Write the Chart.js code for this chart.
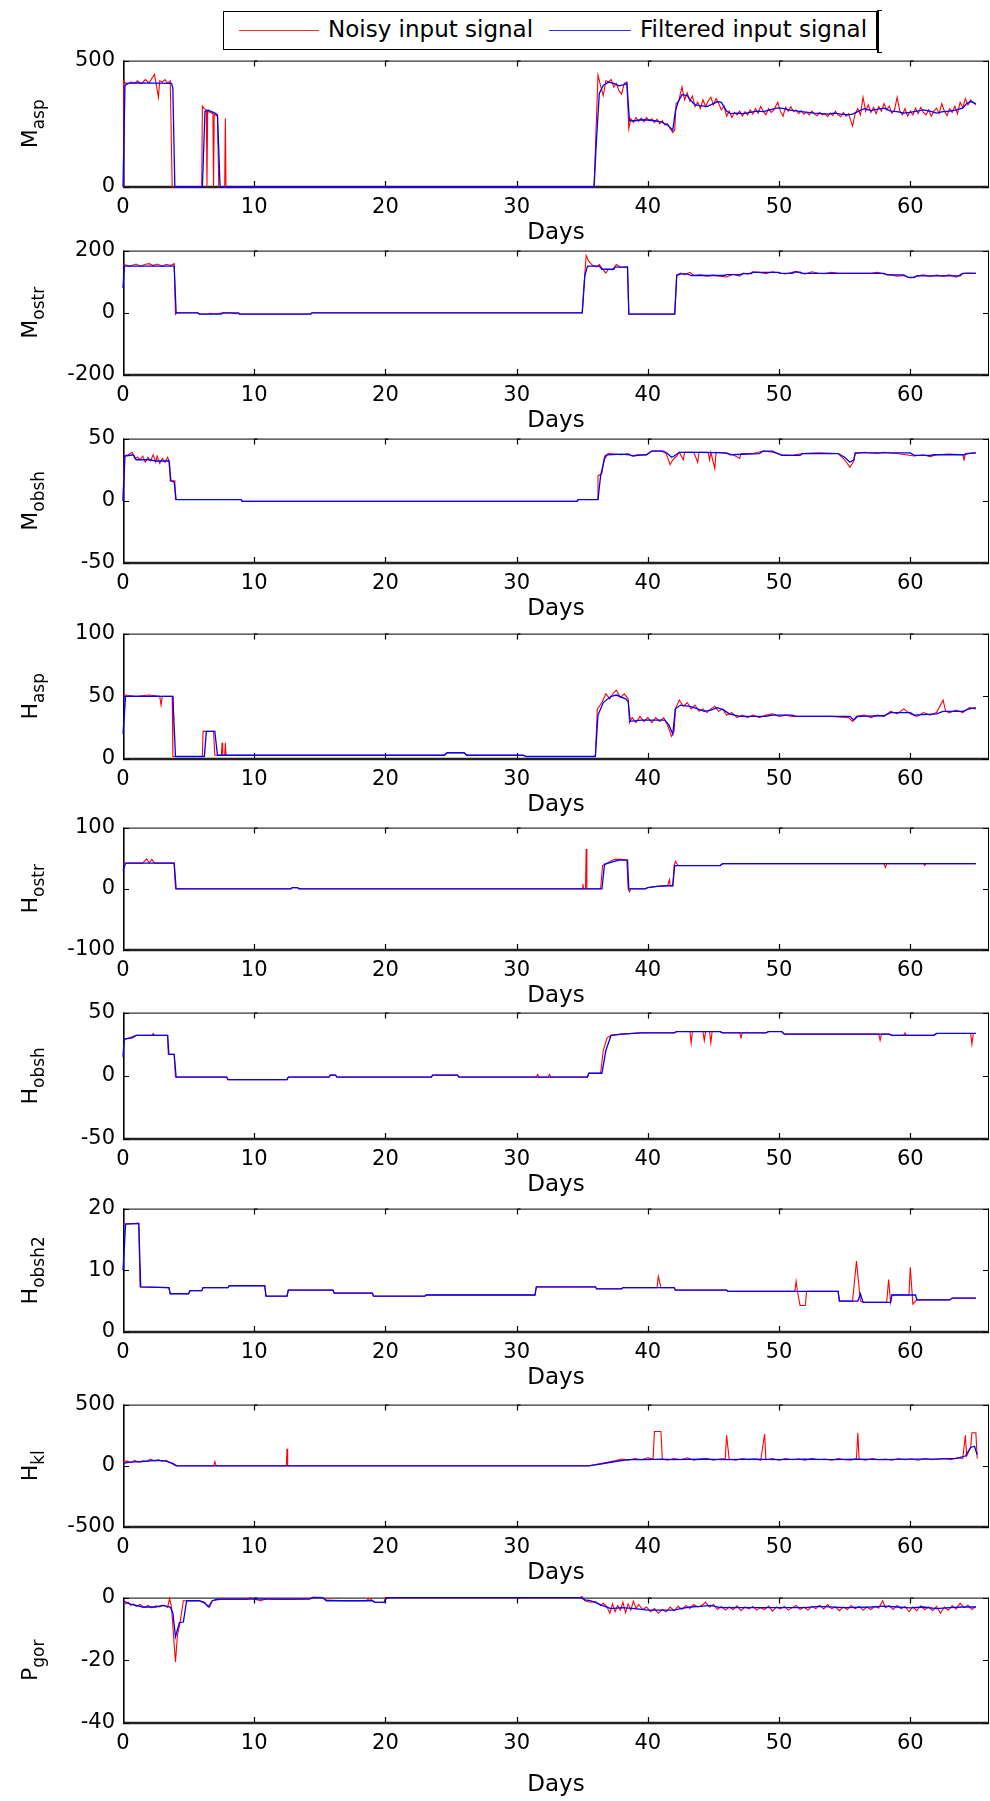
<!DOCTYPE html>
<html><head><meta charset="utf-8">
<script src="https://cdn.jsdelivr.net/npm/chart.js@4.4.1/dist/chart.umd.min.js"></script>
<style>
html,body{margin:0;padding:0;background:#fff;}
body{width:990px;height:1801px;position:relative;overflow:hidden;font-family:"DejaVu Sans",sans-serif;}
canvas{position:absolute;left:0;}
#legend{position:absolute;left:223px;top:11px;width:654px;height:39px;border:1.5px solid #000;box-sizing:border-box;background:#fff;z-index:10;}
#legend .ln{position:absolute;top:18px;height:0;border-top:1.5px solid;}
#legend .tx{position:absolute;top:4px;font-size:23px;line-height:26px;color:#000;white-space:nowrap;}
#brk{position:absolute;left:877px;top:10px;width:3px;height:41px;border-left:2px solid #000;border-top:1px solid #000;border-bottom:1px solid #000;z-index:10;}
</style>
</head><body>
<div id="legend">
  <div class="ln" style="left:15px;width:80px;border-color:#ff3030"></div>
  <div class="tx" style="left:104px">Noisy input signal</div>
  <div class="ln" style="left:325px;width:82px;border-color:#3030ff"></div>
  <div class="tx" style="left:416px">Filtered input signal</div>
</div>
<div id="brk"></div>
<script>
// ---------------- DATA (days, value) ----------------
const xTickValues = [0, 10, 20, 30, 40, 50, 60];
const legendLabels = ["Noisy input signal", "Filtered input signal"];
const xTitle = "Days";

// 1. M_asp
const mAspTicks = [0, 500];
const mAspNoisy = [[0,0],[0.05,420],[0.3,405],[0.6,415],[0.9,410],[1.1,420],[1.4,408],[1.7,425],[2.0,412],[2.2,430],[2.4,445],[2.55,400],[2.7,355],[2.8,420],[3.0,415],[3.2,425],[3.4,410],[3.6,420],[3.75,0],[6.0,0],[6.05,320],[6.2,310],[6.35,305],[6.4,0],[6.45,300],[6.7,295],[6.85,290],[6.9,0],[6.95,288],[7.2,280],[7.3,0],[7.75,0],[7.8,272],[7.85,0],[35.9,0],[36.2,443],[36.4,400],[36.6,362],[36.8,420],[37.0,415],[37.2,425],[37.4,395],[37.6,410],[37.8,380],[38.0,368],[38.2,410],[38.4,415],[38.55,230],[38.7,270],[38.9,255],[39.1,275],[39.3,260],[39.5,272],[39.7,258],[39.9,275],[40.1,262],[40.3,270],[40.5,255],[40.7,268],[40.9,250],[41.1,262],[41.3,245],[41.5,250],[41.7,232],[41.9,215],[42.05,225],[42.15,330],[42.35,340],[42.6,396],[42.8,345],[43.0,372],[43.2,340],[43.4,360],[43.6,318],[43.8,335],[44.0,310],[44.2,345],[44.4,318],[44.6,340],[44.8,355],[45.0,325],[45.2,350],[45.4,330],[45.6,305],[45.8,320],[46.0,280],[46.2,300],[46.4,275],[46.6,295],[46.8,285],[47.0,300],[47.2,280],[47.4,298],[47.6,285],[47.8,305],[48.0,288],[48.2,310],[48.4,292],[48.6,318],[48.8,300],[49.0,285],[49.2,310],[49.4,295],[49.6,305],[49.9,335],[50.1,300],[50.3,280],[50.5,315],[50.7,300],[50.9,318],[51.1,298],[51.3,305],[51.5,290],[51.7,302],[51.9,288],[52.1,296],[52.3,285],[52.5,300],[52.7,288],[52.9,282],[53.1,295],[53.3,285],[53.5,290],[53.7,278],[53.9,292],[54.1,282],[54.3,300],[54.5,285],[54.7,278],[54.9,295],[55.1,280],[55.3,290],[55.6,241],[55.8,290],[56.0,310],[56.2,285],[56.4,355],[56.6,300],[56.8,325],[57.0,295],[57.2,315],[57.4,290],[57.6,318],[57.8,300],[58.0,330],[58.2,305],[58.4,320],[58.6,292],[58.8,305],[59.0,355],[59.2,300],[59.4,285],[59.6,310],[59.8,280],[60.0,300],[60.2,285],[60.4,312],[60.6,290],[60.8,315],[61.0,295],[61.2,285],[61.4,305],[61.6,280],[61.8,300],[62.0,312],[62.2,290],[62.4,330],[62.6,300],[62.8,282],[63.0,310],[63.2,295],[63.4,320],[63.6,290],[63.8,335],[64.0,315],[64.2,350],[64.4,325],[64.6,345],[64.8,335],[65.0,325]];
const mAspFiltered = [[0,0],[0.15,400],[0.3,410],[1,412],[3.7,410],[3.8,390],[3.95,0],[6.05,0],[6.25,300],[6.5,304],[7.0,292],[7.2,285],[7.4,0],[35.9,0],[36.1,200],[36.3,370],[36.6,402],[37.0,415],[37.4,410],[37.8,400],[38.2,405],[38.4,410],[38.6,262],[39,262],[39.5,266],[40,265],[40.5,262],[41,258],[41.5,245],[41.9,225],[42.1,300],[42.3,335],[42.6,365],[43.0,362],[43.3,340],[43.6,325],[44,322],[44.5,318],[45,330],[45.3,338],[45.6,335],[46,300],[46.3,290],[46.8,292],[47.3,290],[47.8,295],[48.3,300],[48.8,298],[49.3,305],[49.8,312],[50.2,312],[50.7,305],[51.2,302],[51.7,298],[52.2,295],[52.7,292],[53.2,290],[53.7,288],[54.2,292],[54.7,288],[55.2,285],[55.6,288],[56,298],[56.5,310],[57,302],[57.5,308],[58,312],[58.5,300],[59,298],[59.5,292],[60,295],[60.5,300],[61,305],[61.5,300],[62,292],[62.5,298],[63,300],[63.5,305],[64,312],[64.3,330],[64.6,338],[65,330]];

// 2. M_ostr
const mOstrTicks = [-200, 0, 200];
const mOstrNoisy = [[0,150],[0.1,155],[0.5,150],[1.0,157],[1.3,150],[1.7,156],[2.0,158],[2.3,152],[2.6,157],[3.0,150],[3.3,156],[3.6,152],[3.9,158],[4.0,-5],[4.1,0],[5.7,0],[5.8,-4],[6.5,-4],[6.6,-2],[7.0,-4],[7.5,-1],[8.0,0],[8.5,-2],[8.9,-4],[14.3,-4],[14.4,0],[35.0,0],[35.15,100],[35.3,184],[35.5,165],[35.8,152],[36.1,148],[36.3,155],[36.6,138],[36.8,128],[37.0,140],[37.3,138],[37.6,155],[37.9,147],[38.2,146],[38.45,148],[38.55,-4],[42.05,-4],[42.2,122],[42.5,128],[42.8,122],[43.2,130],[43.5,120],[44.0,122],[44.5,118],[45.0,121],[45.5,118],[46.0,115],[46.5,124],[47.0,118],[47.3,128],[47.6,124],[48.0,132],[48.5,130],[49.0,126],[49.5,132],[50.0,128],[50.5,125],[51.0,130],[51.3,133],[51.6,128],[52.0,125],[52.5,132],[53.0,127],[53.5,126],[54.0,130],[54.5,127],[55,127],[56,127],[57.0,127],[57.5,130],[58.0,125],[58.5,122],[59.0,118],[59.5,120],[60.0,112],[60.5,118],[61.0,122],[61.5,117],[62.0,121],[62.5,118],[63.0,122],[63.5,115],[63.9,125],[64.3,128],[65.0,127]];
const mOstrFiltered = [[0,80],[0.1,150],[3.9,150],[4.05,0],[5.7,0],[5.8,-4],[7.5,-4],[7.6,0],[8.8,0],[8.9,-4],[14.3,-4],[14.4,0],[35.0,0],[35.2,120],[35.4,150],[36.3,150],[36.5,140],[37.4,140],[37.5,147],[38.45,147],[38.55,-4],[42.05,-4],[42.2,120],[42.5,125],[43.0,125],[43.3,120],[45.8,120],[46,123],[47.0,123],[47.3,126],[47.9,126],[48.0,130],[50.0,130],[50.1,127],[51.0,127],[51.2,131],[51.6,131],[51.8,127],[58.0,127],[58.2,122],[59.5,122],[59.8,115],[60.3,113],[60.5,119],[63.8,119],[64.0,127],[65.0,127]];

// 3. M_obsh
const mObshTicks = [-50, 0, 50];
const mObshNoisy = [[0,0],[0.1,36],[0.4,37],[0.7,39],[0.9,34],[1.1,35],[1.3,33],[1.5,36],[1.7,31],[1.9,35],[2.1,32],[2.3,37],[2.5,31],[2.6,36],[2.8,30],[3.0,34],[3.2,31],[3.4,35],[3.55,31],[3.6,16],[3.95,16],[4.0,1],[9.0,1],[9.1,-0.5],[34.6,-0.5],[34.7,1],[36.15,1],[36.2,20],[36.5,22],[36.7,36],[37.0,38],[37.5,37.5],[38.0,37],[38.5,38],[38.8,36],[39.2,37],[39.9,37],[40.3,40],[41.0,40],[41.4,38],[41.7,29],[41.9,33],[42.2,36],[42.4,39],[42.7,33],[42.8,39],[43.5,39],[43.8,31],[43.9,39],[44.6,39],[44.7,33],[44.8,39],[45.1,26],[45.2,39],[46.0,38],[46.5,37],[47.0,34],[47.1,38],[48.0,38],[48.8,40],[49.5,39],[50.2,37],[51.0,36.5],[51.8,38],[53.0,38.5],[54.5,38],[55.0,33],[55.4,27],[55.7,32],[55.8,38],[56.5,39],[57.5,38],[58.0,39],[59.0,38],[60.3,36],[61.0,37],[61.5,35.5],[62.0,37],[63.0,37.5],[64.0,37],[64.1,33],[64.2,38],[65,38.5]];
const mObshFiltered = [[0,0],[0.15,36],[0.8,37],[1.0,33],[2.0,33],[2.5,32],[3.5,32],[3.65,16],[3.9,15],[4.05,1],[9.0,1],[9.1,-0.5],[34.6,-0.5],[34.7,1],[36.2,1],[36.4,20],[36.7,34],[36.9,37],[38.0,37.5],[38.6,37],[38.9,36],[39.2,36.5],[39.9,37],[40.3,40],[41.2,40],[41.5,38],[41.8,35],[42.0,36],[42.4,39],[44.0,39],[46.0,38.5],[46.3,37],[48.5,38],[48.8,40],[49.5,40],[50.2,36.5],[51.6,36.5],[51.8,38],[54.5,38],[55.0,35],[55.4,31],[55.7,33],[55.8,38.5],[60.0,38.5],[60.3,36.5],[61.5,36.5],[61.8,37],[64.1,37],[64.4,38],[65,38.5]];

// 4. H_asp
const hAspTicks = [0, 50, 100];
const hAspNoisy = [[0,50],[0.2,51],[1.0,50],[2.0,51],[2.8,50],[2.9,43],[3.0,50],[3.75,50],[3.8,2],[6.05,2],[6.1,22],[6.9,22],[7.0,3],[7.5,3],[7.55,13],[7.6,3],[7.75,3],[7.8,13],[7.85,3],[24.5,3],[24.7,5],[26.0,5],[26.2,3],[30.5,3],[30.7,2],[36.0,2],[36.15,40],[36.5,45],[36.8,52],[37.1,48],[37.4,53],[37.6,55],[37.9,49],[38.2,52],[38.5,48],[38.6,29],[38.8,33],[39.1,29],[39.4,34],[39.7,30],[40.0,33],[40.3,29],[40.6,33],[40.9,30],[41.2,33],[41.5,27],[41.8,18],[42.0,22],[42.1,40],[42.4,47],[42.7,42],[43.0,45],[43.3,40],[43.6,43],[43.9,38],[44.2,40],[44.5,37],[44.8,40],[45.1,42],[45.4,38],[45.7,40],[46.0,35],[46.4,37],[46.8,33],[47.2,35],[47.6,33],[48.0,35],[48.5,33],[49.0,35],[49.5,36],[50.0,34],[50.5,35],[51.0,34],[52,34],[53,34],[54,34],[55.3,33],[55.6,30],[55.9,34],[56.5,35],[57.0,33],[57.5,35],[58.0,34],[58.5,38],[59.0,36],[59.5,40],[60.0,36],[60.5,34],[61.0,37],[61.5,35],[62.0,37],[62.5,47],[62.7,38],[63.0,37],[63.5,39],[64.0,37],[64.5,41],[65,40]];
const hAspFiltered = [[0,20],[0.2,50],[3.8,50],[4.0,2],[6.2,2],[6.35,22],[7.0,22],[7.2,3],[24.5,3],[24.7,5],[26.0,5],[26.2,3],[30.5,3],[30.7,2],[36.0,2],[36.2,35],[36.6,45],[37.2,50],[37.6,51],[38.3,48],[38.5,46],[38.65,30],[39.5,31],[40.5,31],[41.3,31],[41.6,27],[41.9,20],[42.1,40],[42.5,43],[43.2,42],[43.8,40],[44.3,38],[44.8,39],[45.3,41],[45.8,39],[46.2,36],[47.0,34],[49.0,34],[49.5,35],[51.0,35],[51.3,34],[55.4,34],[55.7,31],[56.0,34],[58.0,34.5],[58.5,37],[60.0,37],[60.3,35],[62.0,36],[62.5,38],[64.0,38],[64.5,40],[65,41]];

// 5. H_ostr
const hOstrTicks = [-100, 0, 100];
const hOstrNoisy = [[0,40],[0.3,42],[1.5,42],[1.8,49],[2.0,42],[2.2,48],[2.4,42],[3.9,42],[4.0,0],[12.8,0],[12.9,2],[13.3,2],[13.4,0],[35.0,0],[35.05,8],[35.1,0],[35.25,0],[35.3,65],[35.35,0],[36.4,0],[36.55,38],[36.9,42],[37.2,46],[37.5,48],[38.0,48],[38.4,47],[38.5,0],[38.6,-5],[38.7,0],[39.8,0],[40.0,2],[40.7,4],[41.5,5],[41.65,15],[41.7,5],[41.9,5],[42.0,38],[42.1,45],[42.3,38],[45.5,38],[45.7,41],[58.0,41],[58.1,35],[58.2,41],[61.0,41],[61.1,38],[61.2,41],[65,41]];
const hOstrFiltered = [[0,30],[0.2,42],[3.9,42],[4.05,0],[12.8,0],[12.9,2],[13.3,2],[13.4,0],[36.5,0],[36.7,40],[37.3,44],[37.8,47],[38.45,47],[38.55,0],[39.8,0],[40.0,2],[40.7,4],[41.5,5],[41.9,5],[42.05,38],[45.5,38],[45.7,41],[65,41]];

// 6. H_obsh
const hObshTicks = [-50, 0, 50];
const hObshNoisy = [[0,28],[0.1,29],[0.5,30],[1.0,32],[2.2,32],[2.3,33.5],[2.4,32],[3.4,32],[3.45,17],[3.9,17],[4.0,-1],[7.9,-1],[8.0,-3],[12.5,-3],[12.6,-1],[15.7,-1],[15.8,0.5],[16.2,0.5],[16.3,-1],[23.5,-1],[23.6,0.5],[25.5,0.5],[25.6,-1],[31.5,-1],[31.6,1],[31.7,-1],[32.4,-1],[32.5,1],[32.6,-1],[35.4,-1],[35.5,2],[36.4,2],[36.6,20],[36.9,30],[37.2,32],[38.0,33],[39.5,34],[42.0,34],[42.2,35],[43.2,35],[43.3,26],[43.4,35],[44.2,35],[44.3,28],[44.4,35],[44.7,35],[44.8,26],[44.9,35],[45.5,35],[45.7,34],[47.0,34],[47.1,30],[47.2,34],[49.0,34],[49.2,35],[50.2,35],[50.4,33],[57.6,33],[57.7,28],[57.8,33],[58.4,33],[58.6,32],[59.5,32],[59.6,34],[59.7,32],[61.8,32],[62.0,33.5],[64.6,33.5],[64.7,25],[64.8,33.5],[65,33.5]];
const hObshFiltered = [[0,15],[0.1,29],[0.7,30],[1.0,32],[3.4,32],[3.5,17],[3.9,17],[4.05,-1],[7.9,-1],[8.0,-3],[12.5,-3],[12.6,-1],[15.7,-1],[15.8,0.5],[16.2,0.5],[16.3,-1],[23.5,-1],[23.6,0.5],[25.5,0.5],[25.6,-1],[35.4,-1],[35.5,2],[36.5,2],[36.8,20],[37.2,32],[38.0,33],[39.5,34],[42.0,34],[42.2,35],[45.5,35],[45.7,34],[49.0,34],[49.2,35],[50.2,35],[50.4,33],[58.4,33],[58.6,32],[61.8,32],[62.0,33.5],[65,33.5]];

// 7. H_obsh2
const hObsh2Ticks = [0, 10, 20];
const hObsh2Noisy = [[0,17.5],[1.2,17.6],[1.3,7.3],[3.5,7.2],[3.6,6.2],[5.0,6.2],[5.1,6.7],[6.0,6.7],[6.1,7.2],[8.0,7.2],[8.1,7.5],[10.8,7.5],[10.9,5.8],[12.5,5.8],[12.6,6.8],[16.0,6.8],[16.1,6.3],[19.0,6.3],[19.1,5.8],[23.0,5.8],[23.1,6.0],[31.4,6.0],[31.5,7.3],[36.0,7.3],[36.1,7.0],[38.0,7.0],[38.1,7.2],[40.7,7.2],[40.8,9.0],[41.0,7.2],[42.0,7.2],[42.1,6.8],[46.0,6.8],[46.1,6.6],[51.2,6.6],[51.3,8.2],[51.4,6.6],[51.6,4.3],[52.0,4.3],[52.1,6.6],[54.5,6.6],[54.6,5.0],[55.6,5.0],[55.9,11.5],[56.2,5.0],[56.5,4.8],[58.2,4.8],[58.35,8.5],[58.5,4.8],[58.6,6.0],[59.9,6.0],[60.0,10.5],[60.2,4.5],[60.5,5.2],[63,5.2],[63.2,5.5],[65,5.5]];
const hObsh2Filtered = [[0,10],[0.2,17.5],[1.2,17.6],[1.35,7.3],[3.5,7.2],[3.6,6.2],[5.0,6.2],[5.1,6.7],[6.0,6.7],[6.1,7.2],[8.0,7.2],[8.1,7.5],[10.8,7.5],[10.9,5.8],[12.5,5.8],[12.6,6.8],[16.0,6.8],[16.1,6.3],[19.0,6.3],[19.1,5.8],[23.0,5.8],[23.1,6.0],[31.4,6.0],[31.5,7.3],[36.0,7.3],[36.1,7.0],[38.0,7.0],[38.1,7.2],[42.0,7.2],[42.1,6.8],[46.0,6.8],[46.1,6.6],[54.5,6.6],[54.6,5.0],[56.0,5.0],[56.2,6.2],[56.4,4.8],[58.5,4.8],[58.6,6.0],[60.4,6.0],[60.5,5.2],[63,5.2],[63.2,5.5],[65,5.5]];

// 8. H_kl
const hKlTicks = [-500, 0, 500];
const hKlNoisy = [[0,30],[0.3,40],[0.6,25],[0.9,45],[1.2,30],[1.5,40],[1.8,35],[2.1,55],[2.4,40],[2.7,50],[3.0,35],[3.3,45],[3.6,25],[4.0,0],[6.9,0],[7.0,35],[7.1,0],[12.45,0],[12.5,140],[12.55,0],[35.5,0],[36.0,10],[36.5,20],[37,30],[37.5,40],[38,55],[38.5,45],[39,60],[39.5,50],[40,65],[40.4,55],[40.5,280],[41.0,280],[41.1,55],[41.5,45],[42,60],[42.5,50],[43,65],[43.5,45],[44,55],[44.5,60],[45,45],[45.5,55],[45.9,60],[46.0,250],[46.2,55],[46.7,45],[47.2,60],[47.7,50],[48.2,55],[48.6,45],[48.9,260],[49.0,50],[49.5,60],[50,45],[50.5,60],[51,50],[51.5,55],[52,45],[52.5,60],[53,50],[53.5,55],[54,45],[54.5,60],[55,50],[55.5,45],[55.9,60],[56.0,270],[56.1,55],[56.6,45],[57.1,60],[57.6,50],[58.1,55],[58.6,45],[59.1,60],[59.6,50],[60.1,55],[60.6,45],[61.1,60],[61.6,50],[62.1,55],[62.6,60],[63.1,50],[63.6,65],[64.0,60],[64.2,250],[64.3,80],[64.6,150],[64.7,270],[65.0,270],[65.1,60]];
const hKlFiltered = [[0,20],[0.5,30],[1.5,35],[2.5,45],[3.2,40],[3.8,20],[4.1,0],[35.5,0],[36.5,15],[37.5,35],[38.5,50],[40,50],[41,55],[42,50],[44,55],[46,50],[48,55],[50,50],[52,55],[54,50],[56,55],[58,50],[60,55],[62,55],[63.5,60],[64.2,80],[64.6,150],[64.9,160],[65.1,90]];

// 9. P_gor
const pGorTicks = [-40, -20, 0];
const pGorNoisy = [[0,-1],[0.2,-2],[0.4,-1.5],[0.6,-2.5],[0.8,-2],[1.0,-2.8],[1.3,-2.2],[1.6,-3.2],[1.9,-2.5],[2.2,-3.3],[2.5,-2.6],[2.8,-3.0],[3.1,-2.4],[3.4,-3.1],[3.55,-0.3],[3.7,-3],[3.9,-15],[4.0,-20.5],[4.15,-12],[4.35,-8],[4.6,-1],[5.8,-1],[6.3,-2],[6.6,-3],[6.8,-1],[7.5,-0.5],[9.5,-0.5],[9.7,0],[10,-0.5],[10.5,-1],[11,-0.3],[11.5,-0.5],[12.5,-0.5],[13,-0.5],[14.2,-0.3],[14.5,0.2],[15.2,0],[15.5,-0.8],[17,-1],[18.5,-1],[18.8,-0.3],[19.2,-1.5],[19.9,-1.5],[20,0],[34.8,0],[35.0,0.3],[35.2,-1],[35.6,-1.5],[36,-1.3],[36.4,-2.5],[36.6,-1.8],[36.9,-3],[37.1,-5],[37.3,-2],[37.5,-4.5],[37.7,-2.5],[37.9,-4],[38.1,-1.5],[38.3,-4.8],[38.5,-2],[38.7,-4],[38.9,-1.2],[39.1,-3.5],[39.3,-2.2],[39.6,-3.8],[39.9,-3],[40.2,-4.5],[40.5,-3.5],[40.8,-5],[41.1,-3.8],[41.4,-4.5],[41.7,-3],[42.0,-4.2],[42.3,-2.8],[42.6,-3.8],[42.9,-2.5],[43.2,-3.5],[43.5,-2.2],[43.8,-3],[44.1,-2.5],[44.4,-1.5],[44.7,-3],[45.0,-2.2],[45.3,-3.8],[45.6,-2.8],[45.9,-4],[46.2,-3],[46.5,-3.8],[46.8,-2.6],[47.1,-4.2],[47.4,-3],[47.7,-3.6],[48.0,-2.8],[48.3,-4],[48.6,-3.2],[48.9,-3.8],[49.2,-2.7],[49.5,-4.3],[49.8,-3],[50.1,-3.6],[50.4,-2.8],[50.7,-4],[51.0,-3.2],[51.3,-2.5],[51.6,-3.8],[51.9,-3],[52.2,-4],[52.5,-2.8],[52.8,-3.5],[53.1,-2.5],[53.4,-3.6],[53.7,-2.2],[54,-3.5],[54.3,-3],[54.6,-4.2],[54.9,-3],[55.2,-3.8],[55.5,-2.5],[55.8,-3.6],[56.1,-2.8],[56.4,-4],[56.7,-3],[57,-3.8],[57.3,-2.8],[57.6,-3.3],[57.9,-1],[58.1,-3.2],[58.4,-2.6],[58.7,-3.8],[59,-2.5],[59.3,-3.6],[59.6,-2.8],[59.9,-4.5],[60.2,-3],[60.5,-4.2],[60.8,-2.6],[61.1,-3.8],[61.4,-3],[61.7,-4.2],[62,-2.8],[62.3,-5],[62.6,-3],[62.9,-4],[63.2,-2.6],[63.5,-3.6],[63.8,-1.8],[64.1,-3.2],[64.4,-2.4],[64.7,-3.8],[65,-2.8]];
const pGorFiltered = [[0,-1],[0.5,-2],[1.5,-3],[2.5,-3],[3,-2.5],[3.6,-3],[3.8,-5],[4.0,-12.5],[4.3,-8],[4.6,-7.8],[4.85,-1],[5.8,-1],[6.2,-1.5],[6.5,-3],[6.8,-1],[7.2,-0.5],[14.2,-0.5],[14.5,0],[15.2,0],[15.5,-1],[19,-1],[19.2,-1.5],[19.9,-1.5],[20.1,0],[34.9,0],[35.2,-0.7],[35.6,-1],[36,-1.5],[36.5,-2.5],[37.2,-3.5],[38,-3.2],[39,-3.5],[40,-4],[42,-4],[42.5,-3.5],[43.2,-3],[44,-2.8],[44.8,-2.5],[45.5,-3.2],[50,-3.2],[52,-3.2],[53,-2.8],[55,-3.2],[57,-3],[58,-2.7],[59,-3],[60,-3.3],[61,-3],[62,-3.5],[63,-3.2],[64,-3],[65,-3]];

// ---------------- PANELS ----------------
const panels = [
  {main:"M", sub:"asp",   ticks:mAspTicks,   noisy:mAspNoisy,   filtered:mAspFiltered},
  {main:"M", sub:"ostr",  ticks:mOstrTicks,  noisy:mOstrNoisy,  filtered:mOstrFiltered},
  {main:"M", sub:"obsh",  ticks:mObshTicks,  noisy:mObshNoisy,  filtered:mObshFiltered},
  {main:"H", sub:"asp",   ticks:hAspTicks,   noisy:hAspNoisy,   filtered:hAspFiltered},
  {main:"H", sub:"ostr",  ticks:hOstrTicks,  noisy:hOstrNoisy,  filtered:hOstrFiltered},
  {main:"H", sub:"obsh",  ticks:hObshTicks,  noisy:hObshNoisy,  filtered:hObshFiltered},
  {main:"H", sub:"obsh2", ticks:hObsh2Ticks, noisy:hObsh2Noisy, filtered:hObsh2Filtered},
  {main:"H", sub:"kl",    ticks:hKlTicks,    noisy:hKlNoisy,    filtered:hKlFiltered},
  {main:"P", sub:"gor",   ticks:pGorTicks,   noisy:pGorNoisy,   filtered:pGorFiltered}
];

// layout: plot area top / bottom in page pixels, and height of x-axis band
const frames = [[54,187,60],[244,375,60],[432,563,60],[627,759,60],[821,950,60],[1006,1139,60],[1202,1332,60],[1398,1527,60],[1591,1723,76]];
const X_MAX = 66;
const PAD_TOP = 14, LEFT = 123, RIGHT_PAD = 1;
const FONT = "'DejaVu Sans', sans-serif";

Chart.defaults.font.family = FONT;
Chart.defaults.color = '#000';

const toXY = arr => arr.map(p => ({x:p[0], y:p[1]}));

const boxPlugin = {
  id:'box',
  beforeDatasetsDraw(chart){
    const {ctx, chartArea:a, scales} = chart;
    ctx.save();
    ctx.strokeStyle = '#000';
    ctx.lineWidth = 1;
    ctx.beginPath();
    ctx.moveTo(a.left, a.top+0.5); ctx.lineTo(a.right, a.top+0.5);
    ctx.moveTo(a.right-0.5, a.top); ctx.lineTo(a.right-0.5, a.bottom);
    ctx.stroke();
    ctx.lineWidth = 1.6;
    ctx.beginPath(); ctx.moveTo(a.left+0.8, a.top); ctx.lineTo(a.left+0.8, a.bottom); ctx.stroke();
    ctx.strokeStyle = '#222';
    ctx.lineWidth = 2.5;
    ctx.beginPath(); ctx.moveTo(a.left, a.bottom); ctx.lineTo(a.right, a.bottom); ctx.stroke();
    ctx.strokeStyle = '#000';
    ctx.lineWidth = 1.2;
    ctx.beginPath();
    xTickValues.forEach(v => {
      if (v === 0) return;
      const px = Math.round(scales.x.getPixelForValue(v)) + 0.5;
      ctx.moveTo(px, a.bottom); ctx.lineTo(px, a.bottom - 6);
      ctx.moveTo(px, a.top); ctx.lineTo(px, a.top + 6);
      ctx.moveTo(px, a.top + 0.5); ctx.lineTo(px + 3, a.top + 0.5);
    });
    chart.options.plugins.box.yticks.forEach(v => {
      const py = Math.round(scales.y.getPixelForValue(v)) + 0.5;
      ctx.moveTo(a.left, py); ctx.lineTo(a.left + 6, py);
      ctx.moveTo(a.right, py); ctx.lineTo(a.right - 6, py);
    });
    ctx.stroke();
    ctx.restore();
  },
  afterDraw(chart){
    const {ctx, chartArea:a} = chart;
    const o = chart.options.plugins.box;
    ctx.save();
    const cy = (a.top + a.bottom) / 2;
    ctx.font = "22px " + FONT;
    const w1 = ctx.measureText(o.main).width;
    ctx.font = "17px " + FONT;
    const w2 = ctx.measureText(o.sub).width;
    const total = w1 + w2;
    ctx.translate(37, cy);
    ctx.rotate(-Math.PI/2);
    ctx.fillStyle = '#000';
    ctx.textBaseline = 'alphabetic';
    ctx.textAlign = 'left';
    ctx.font = "22px " + FONT;
    ctx.fillText(o.main, -total/2, 0);
    ctx.font = "17px " + FONT;
    ctx.fillText(o.sub, -total/2 + w1, 7);
    ctx.restore();
  }
};

panels.forEach((p, i) => {
  const [top, bottom, axisH] = frames[i];
  const cv = document.createElement('canvas');
  const h = PAD_TOP + (bottom - top) + axisH;
  cv.width = 990; cv.height = h;
  cv.style.top = (top - PAD_TOP) + 'px';
  cv.style.width = '990px'; cv.style.height = h + 'px';
  document.body.appendChild(cv);
  const ymin = p.ticks[0], ymax = p.ticks[p.ticks.length-1];
  new Chart(cv, {
    type:'line',
    data:{datasets:[
      {label:legendLabels[1], data:toXY(p.filtered), borderColor:'#0000ff', borderWidth:1.3, pointRadius:0, tension:0, order:0, clip:6},
      {label:legendLabels[0], data:toXY(p.noisy), borderColor:'#ff0000', borderWidth:1.1, pointRadius:0, tension:0, order:1, clip:6}
    ]},
    options:{
      responsive:false, animation:false, devicePixelRatio:1,
      layout:{padding:{top:PAD_TOP, right:RIGHT_PAD, left:0, bottom:0}},
      plugins:{legend:{display:false}, tooltip:{enabled:false}, box:{main:p.main, sub:p.sub, yticks:p.ticks}},
      scales:{
        x:{type:'linear', min:0, max:X_MAX,
           grid:{display:false, drawTicks:false}, border:{display:false},
           afterBuildTicks: s => { s.ticks = xTickValues.map(v => ({value:v})); },
           afterFit: s => { s.height = axisH; },
           ticks:{font:{size:21}, padding:8, maxRotation:0, autoSkip:false, color:'#000'},
           title:{display:true, text:xTitle, font:{size:23}, padding:{top:0,bottom:0}, color:'#000'}},
        y:{type:'linear', min:ymin, max:ymax,
           grid:{display:false, drawTicks:false}, border:{display:false},
           afterBuildTicks: s => { s.ticks = p.ticks.map(v => ({value:v})); },
           afterFit: s => { s.width = LEFT; },
           ticks:{font:{size:21}, padding:8, autoSkip:false, color:'#000'}}
      }
    },
    plugins:[boxPlugin]
  });
});
</script>
</body></html>
